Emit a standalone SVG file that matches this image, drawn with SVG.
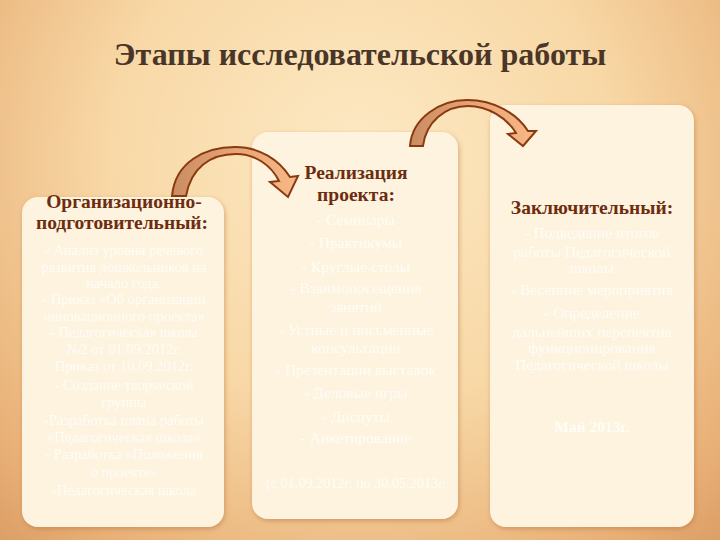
<svg xmlns="http://www.w3.org/2000/svg" width="720" height="540" viewBox="0 0 720 540">
<defs>
<radialGradient id="bg" cx="360" cy="160" r="560" gradientUnits="userSpaceOnUse">
<stop offset="0" stop-color="#fde9c4"/>
<stop offset="0.45" stop-color="#f8d8a6"/>
<stop offset="0.8" stop-color="#e9b178"/>
<stop offset="1" stop-color="#d6965d"/>
</radialGradient>
<linearGradient id="arrowFill" x1="0" y1="0" x2="1" y2="0">
<stop offset="0" stop-color="#c98c62"/>
<stop offset="0.5" stop-color="#e8a475"/>
<stop offset="1" stop-color="#f7b987"/>
</linearGradient>
<filter id="shadow" x="-10%" y="-10%" width="120%" height="120%">
<feDropShadow dx="1" dy="2" stdDeviation="2.5" flood-color="#b8783e" flood-opacity="0.55"/>
</filter>
<style>
.panel{fill:#fdf3df;filter:url(#shadow);}
.head{font-family:"Liberation Serif","DejaVu Serif",serif;font-weight:bold;font-size:19.5px;fill:#6e2c0e;text-anchor:middle;}
.body{font-family:"Liberation Serif","DejaVu Serif",serif;font-size:15.5px;fill:#fffdf6;text-anchor:middle;}
.small{font-size:14.5px;}
.arrow{fill:url(#arrowFill);stroke:#8a3a10;stroke-width:2;stroke-linejoin:miter;}
</style>
</defs>
<rect x="0" y="0" width="720" height="540" fill="url(#bg)"/>
<text x="360" y="65" font-family="'Liberation Serif','DejaVu Serif',serif" font-weight="bold" font-size="32" fill="#4a3628" text-anchor="middle">Этапы исследовательской работы</text>

<g id="stage1">
<rect class="panel" x="22" y="197" width="202" height="330" rx="16"/>
<text class="head" x="124" y="208">Организационно-</text>
<text class="head" x="122" y="229">подготовительный:</text>
<text class="body small" x="124" y="255">- Анализ уровня речевого</text>
<text class="body small" x="124" y="272">развития дошкольников на</text>
<text class="body small" x="124" y="288">начало года.</text>
<text class="body small" x="124" y="304">- Приказ «Об организации</text>
<text class="body small" x="124" y="321">инновационного проекта»</text>
<text class="body small" x="124" y="337">- Педагогическая школа</text>
<text class="body small" x="124" y="354">№2 от 01.09.2012г.</text>
<text class="body small" x="124" y="371">Приказ от 10.09.2012г.</text>
<text class="body small" x="124" y="390">- Создание творческой</text>
<text class="body small" x="124" y="407">группы</text>
<text class="body small" x="124" y="425">-Разработка плана работы</text>
<text class="body small" x="124" y="442">«Педагогическая школа»</text>
<text class="body small" x="124" y="459">- Разработка «Положения</text>
<text class="body small" x="124" y="477">о проекте»</text>
<text class="body small" x="124" y="495">-Педагогическая школа</text>
</g>

<g id="stage2">
<rect class="panel" x="252" y="132" width="206" height="387" rx="16"/>
<text class="head" x="356" y="179">Реализация</text>
<text class="head" x="356" y="201">проекта:</text>
<text class="body" x="356" y="225">- Семинары</text>
<text class="body" x="356" y="248">- Практикумы</text>
<text class="body" x="356" y="272">- Круглые столы</text>
<text class="body" x="356" y="293">- Взаимопосещения</text>
<text class="body" x="356" y="312">занятий</text>
<text class="body" x="356" y="335">- Устные и письменные</text>
<text class="body" x="356" y="353">консультации</text>
<text class="body" x="356" y="375">- Презентации выставок</text>
<text class="body" x="356" y="398">- Деловые игры</text>
<text class="body" x="356" y="422">- Диспуты</text>
<text class="body" x="356" y="443">- Анкетирование</text>
<text class="body" x="356" y="488" textLength="180" lengthAdjust="spacingAndGlyphs">(с 01.09.2012г. по 30.05.2013г.</text>
</g>

<g id="stage3">
<rect class="panel" x="490" y="105" width="204" height="422" rx="16"/>
<text class="head" x="592" y="214">Заключительный:</text>
<text class="body" x="592" y="238">- Подведение итогов</text>
<text class="body" x="592" y="257">работы Педагогической</text>
<text class="body" x="592" y="273">школы</text>
<text class="body" x="592" y="295">- Весенние мероприятия</text>
<text class="body" x="592" y="318">- Определение</text>
<text class="body" x="592" y="337">дальнейших перспектив</text>
<text class="body" x="592" y="353">функционирования</text>
<text class="body" x="592" y="370">Педагогической школы</text>
<text class="body" x="592" y="432" font-weight="bold">Май 2013г.</text>
</g>

<g id="connectors">
<path class="arrow" d="M 172 196 C 175 162, 205 147, 235 147 C 260 147, 279 160, 290 177 L 298 176 L 288 197 L 270 182 L 279 181 C 271 165, 255 154, 236 154 C 210 154, 191 168, 186 196 Z"/>
<path class="arrow" d="M 410 146 C 412 118, 440 100, 467 100 C 495 100, 517 114, 528 131 L 536 131 L 523 146 L 508 134 L 516 133 C 507 118, 488 106, 468 106 C 445 106, 426 122, 423 146 Z"/>
</g>
</svg>
